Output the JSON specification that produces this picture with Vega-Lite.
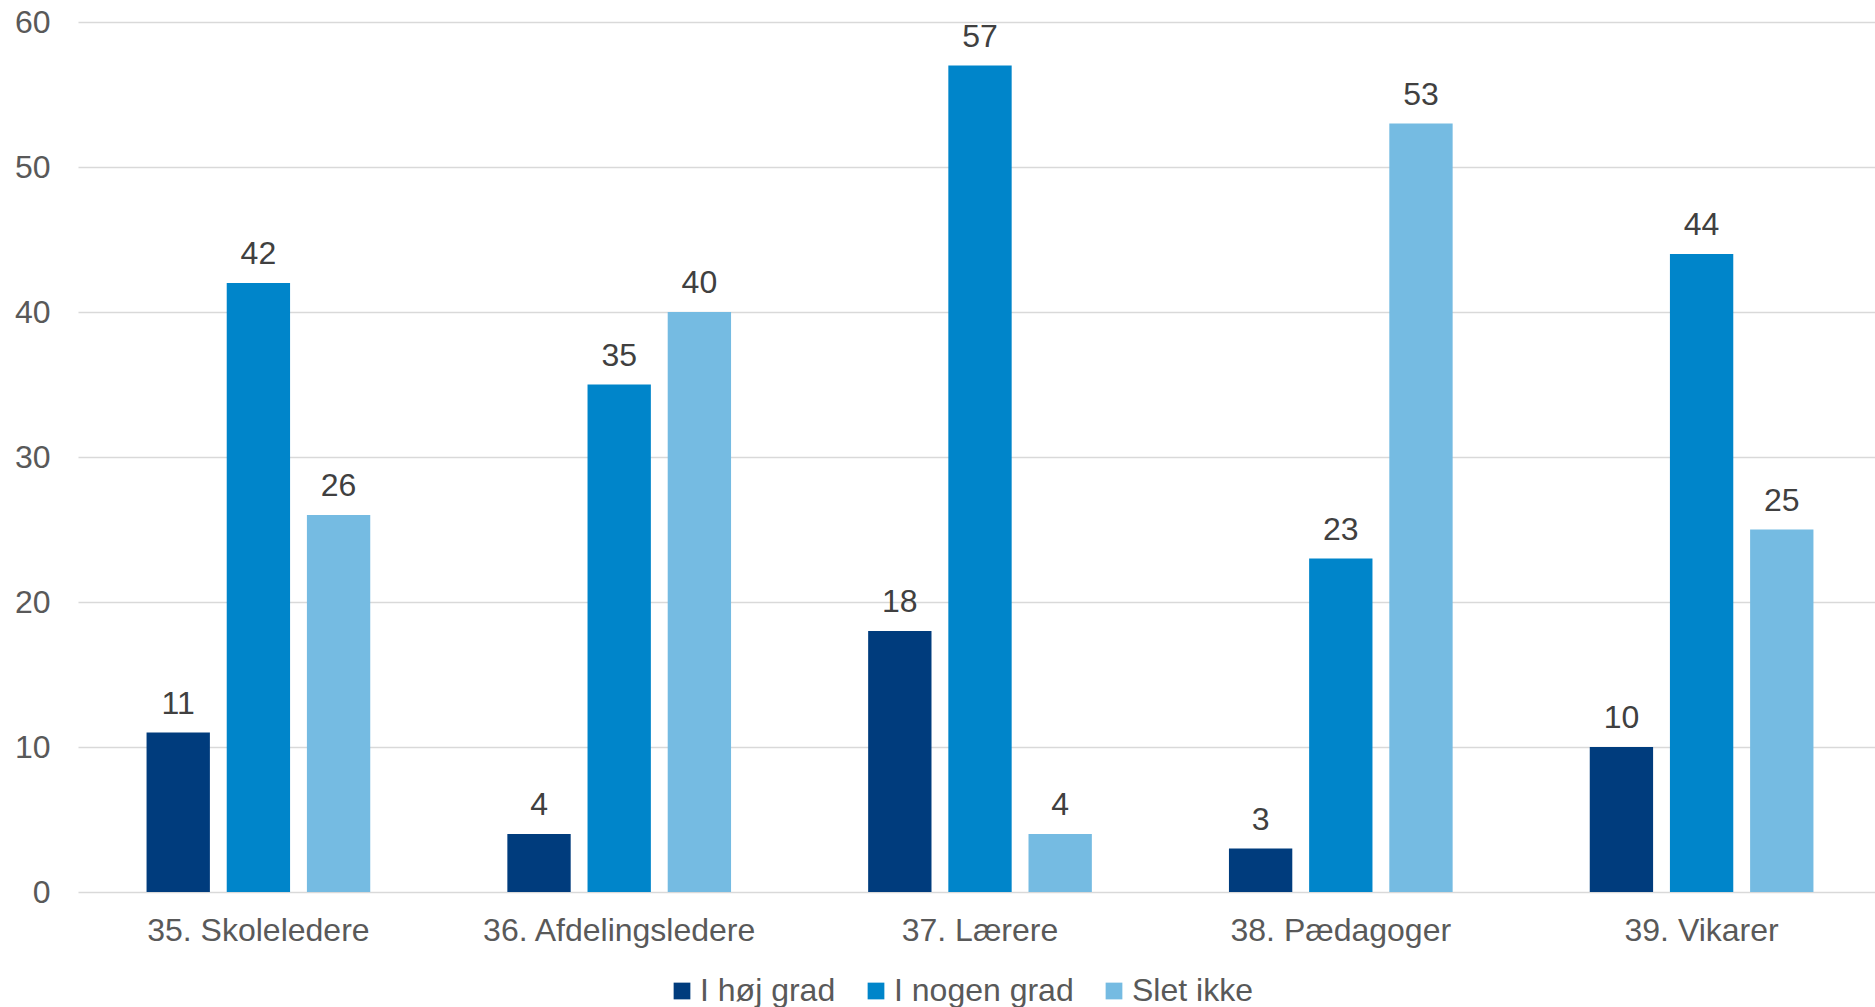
{
  "$schema": "https://vega.github.io/schema/vega-lite/v6.json",
  "width": 1804,
  "height": 870,
  "autosize": {"type": "none"},
  "padding": {"left": 78, "top": 22, "right": 0, "bottom": 115},
  "background": "white",
  "config": {
    "view": {"stroke": null},
    "font": "Liberation Sans"
  },
  "data": {
    "values": [
      {"group": "35. Skoleledere", "series": "I høj grad", "value": 11},
      {"group": "35. Skoleledere", "series": "I nogen grad", "value": 42},
      {"group": "35. Skoleledere", "series": "Slet ikke", "value": 26},
      {"group": "36. Afdelingsledere", "series": "I høj grad", "value": 4},
      {"group": "36. Afdelingsledere", "series": "I nogen grad", "value": 35},
      {"group": "36. Afdelingsledere", "series": "Slet ikke", "value": 40},
      {"group": "37. Lærere", "series": "I høj grad", "value": 18},
      {"group": "37. Lærere", "series": "I nogen grad", "value": 57},
      {"group": "37. Lærere", "series": "Slet ikke", "value": 4},
      {"group": "38. Pædagoger", "series": "I høj grad", "value": 3},
      {"group": "38. Pædagoger", "series": "I nogen grad", "value": 23},
      {"group": "38. Pædagoger", "series": "Slet ikke", "value": 53},
      {"group": "39. Vikarer", "series": "I høj grad", "value": 10},
      {"group": "39. Vikarer", "series": "I nogen grad", "value": 44},
      {"group": "39. Vikarer", "series": "Slet ikke", "value": 25}
    ]
  },
  "encoding": {
    "x": {
      "field": "group",
      "type": "nominal",
      "sort": null,
      "scale": {"paddingInner": 0.38, "paddingOuter": 0.19},
      "axis": {
        "title": null,
        "labelAngle": 0,
        "labelFontSize": 32,
        "labelColor": "#595959",
        "labelFont": "Liberation Sans",
        "labelPadding": 23,
        "labelLimit": 0,
        "ticks": false,
        "domain": false
      }
    },
    "xOffset": {
      "field": "series",
      "type": "nominal",
      "sort": ["I høj grad", "I nogen grad", "Slet ikke"],
      "scale": {"paddingInner": 0.21, "paddingOuter": 0}
    },
    "y": {
      "field": "value",
      "type": "quantitative",
      "scale": {"domain": [0, 60], "nice": false},
      "axis": {
        "title": null,
        "values": [0, 10, 20, 30, 40, 50, 60],
        "labelFontSize": 32,
        "labelColor": "#595959",
        "labelFont": "Liberation Sans",
        "labelPadding": 28,
        "ticks": false,
        "domain": false,
        "grid": true,
        "gridColor": "#D9D9D9",
        "gridWidth": 1.5
      }
    }
  },
  "layer": [
    {
      "mark": {"type": "bar"},
      "encoding": {
        "color": {
          "field": "series",
          "type": "nominal",
          "sort": ["I høj grad", "I nogen grad", "Slet ikke"],
          "scale": {
            "domain": ["I høj grad", "I nogen grad", "Slet ikke"],
            "range": ["#003C7D", "#0085CA", "#75BBE2"]
          },
          "legend": {
            "title": null,
            "orient": "none",
            "legendX": 588,
            "legendY": 953,
            "direction": "horizontal",
            "symbolType": "square",
            "symbolSize": 280,
            "symbolStrokeWidth": 0,
            "labelFontSize": 32,
            "labelColor": "#595959",
            "labelFont": "Liberation Sans",
            "labelLimit": 0,
            "labelOffset": 2,
            "columnPadding": 24
          }
        }
      }
    },
    {
      "mark": {"type": "text", "baseline": "alphabetic", "dy": -19, "fontSize": 32, "color": "#404040", "font": "Liberation Sans"},
      "encoding": {
        "text": {"field": "value", "type": "quantitative"}
      }
    }
  ]
}
